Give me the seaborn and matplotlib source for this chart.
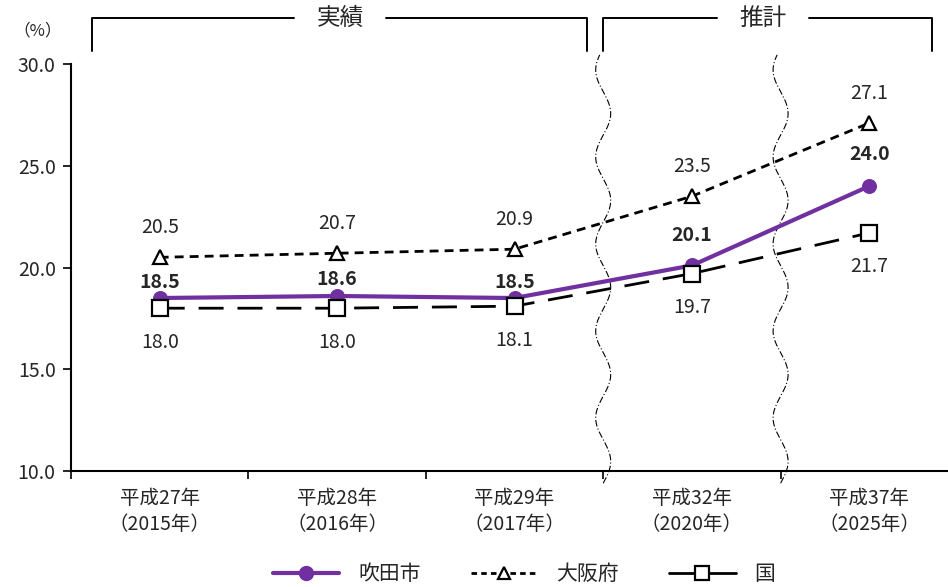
import numpy as np
import pandas as pd
import matplotlib
matplotlib.use("Agg")
import matplotlib.pyplot as plt
from matplotlib.lines import Line2D
import seaborn as sns

# ---- data ----
categories = ["平成27年\n（2015年）", "平成28年\n（2016年）", "平成29年\n（2017年）",
              "平成32年\n（2020年）", "平成37年\n（2025年）"]
suita = [18.5, 18.6, 18.5, 20.1, 24.0]
osaka = [20.5, 20.7, 20.9, 23.5, 27.1]
kuni = [18.0, 18.0, 18.1, 19.7, 21.7]
series_names = ["吹田市", "大阪府", "国"]
yticks = [10.0, 15.0, 20.0, 25.0, 30.0]

sns.set_theme(style="white")
plt.rcParams["font.family"] = ["Noto Sans CJK JP", "DejaVu Sans"]

W, H = 948, 587
fig = plt.figure(figsize=(W / 100, H / 100), dpi=100)
ax_left, ax_bottom, ax_top = 71 / W, 1 - 471 / H, 1 - 64 / H
ax = fig.add_axes([ax_left, ax_bottom, 1 - ax_left, ax_top - ax_bottom])

x = np.arange(len(categories))
df = pd.DataFrame({"x": x, "吹田市": suita, "大阪府": osaka, "国": kuni})

purple = "#7030A0"
sns.lineplot(data=df, x="x", y="大阪府", ax=ax, color="black", lw=2,
             linestyle=(0, (3.2, 2.2)), marker="^", markersize=10,
             markerfacecolor="white", markeredgecolor="black", markeredgewidth=1.6,
             label="大阪府", legend=False, zorder=3)
sns.lineplot(data=df, x="x", y="吹田市", ax=ax, color=purple, lw=3,
             marker="o", markersize=10, markeredgecolor=purple,
             label="吹田市", legend=False, zorder=4)
sns.lineplot(data=df, x="x", y="国", ax=ax, color="black", lw=2,
             linestyle=(0, (9, 5)), marker="s", markersize=11,
             markerfacecolor="white", markeredgecolor="black", markeredgewidth=1.6,
             label="国", legend=False, zorder=5)

# axes
ax.set_xlim(-0.5, -0.5 + (W - 71) / 177.4)
ax.set_ylim(10, 30)
ax.set_yticks(yticks)
ax.set_yticklabels([f"{v:.1f}" for v in yticks], fontsize=14)
ax.set_xticks(np.arange(-0.5, len(categories) - 0.5, 1.0))
ax.set_xticklabels([])
ax.set_xticks(x, minor=True)
ax.set_xticklabels(categories, minor=True, fontsize=14, linespacing=1.35)
ax.tick_params(axis="x", which="minor", bottom=False, length=0, pad=12)
ax.tick_params(axis="x", which="major", bottom=True, direction="out", length=6,
               width=1.2, color="black")
ax.tick_params(axis="y", left=True, direction="out", length=6, width=1.2,
               color="black", pad=5)
ax.set_xlabel("")
ax.set_ylabel("")
for s in ["top", "right"]:
    ax.spines[s].set_visible(False)
for s in ["left", "bottom"]:
    ax.spines[s].set_color("black")
    ax.spines[s].set_linewidth(1.5)

# value labels
fs = 14
for xi, v in zip(x, osaka):
    ax.annotate(f"{v:.1f}", (xi, v), xytext=(0, 30), textcoords="offset pixels",
                ha="center", va="center", fontsize=fs, zorder=6)
suita_off = [16, 16, 16, 30, 32]
for xi, v, o in zip(x, suita, suita_off):
    ax.annotate(f"{v:.1f}", (xi, v), xytext=(0, o), textcoords="offset pixels",
                ha="center", va="center", fontsize=fs, fontweight="bold", zorder=6)
for xi, v in zip(x, kuni):
    ax.annotate(f"{v:.1f}", (xi, v), xytext=(0, -34), textcoords="offset pixels",
                ha="center", va="center", fontsize=fs, zorder=6)

# wavy break lines between actual and projected periods
yy = np.linspace(9.4, 30.45, 400)
px_per_unit = (471 - 64) / 20
for xb in [2.5, 3.5]:
    amp = 7.5 / 177.4
    period = 87 / px_per_unit
    xx = xb + amp * np.sin(2 * np.pi * (yy - 9.4) / period)
    ax.plot(xx, yy, color="black", lw=0.8, linestyle=(0, (6, 2, 1, 2)),
            clip_on=False, zorder=2)

# brackets: 実績 / 推計
def fx(px):
    return px / W

def fy(py):
    return 1 - py / H

bracket_kw = dict(color="black", lw=1.4, transform=fig.transFigure)
top, bot = 18, 51
for (x0, x1, tx, label, gap) in [(92, 587, 340, "実績", 26), (603, 932, 763, "推計", 26)]:
    fig.add_artist(Line2D([fx(x0), fx(x0), fx(tx - gap - 20)], [fy(bot), fy(top), fy(top)], **bracket_kw))
    fig.add_artist(Line2D([fx(tx + gap + 20), fx(x1), fx(x1)], [fy(top), fy(top), fy(bot)], **bracket_kw))
    fig.text(fx(tx), fy(top), label, ha="center", va="center", fontsize=17)

fig.text(fx(38), fy(31), "（%）", ha="center", va="center", fontsize=12)

# legend
handles = [
    Line2D([], [], color=purple, lw=3, marker="o", markersize=10),
    Line2D([], [], color="black", lw=2, linestyle=(0, (2, 1.5)), marker="^", markersize=9,
           markerfacecolor="white", markeredgewidth=1.6),
    Line2D([], [], color="black", lw=2, marker="s", markersize=10,
           markerfacecolor="white", markeredgewidth=1.6),
]
fig.legend(handles, series_names, loc="center", bbox_to_anchor=(fx(524), fy(574)),
           ncol=3, frameon=False, fontsize=15, handlelength=3.2, columnspacing=2.4,
           handletextpad=0.9)

fig.savefig("out.png", dpi=100)
